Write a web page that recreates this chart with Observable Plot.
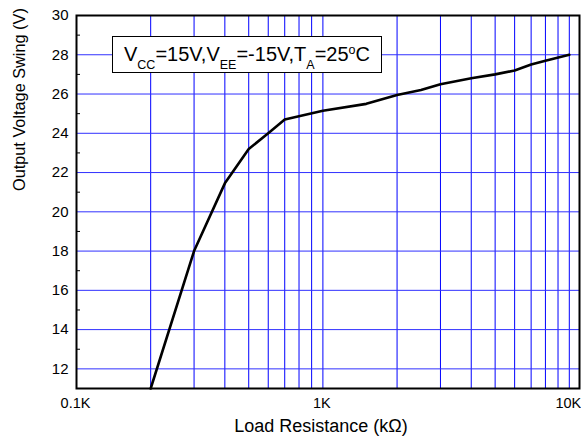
<!DOCTYPE html>
<html>
<head>
<meta charset="utf-8">
<script src="https://cdn.jsdelivr.net/npm/d3@7"></script>
<script src="https://cdn.jsdelivr.net/npm/@observablehq/plot@0.6"></script>
<style>
  html, body { margin: 0; padding: 0; background: #fff; }
  #wrap { position: relative; width: 581px; height: 446px; font-family: "Liberation Sans", Arial, sans-serif; }
  #note {
    position: absolute; left: 112px; top: 36px; width: 268px; height: 35px;
    border: 1.3px solid #000; background: #fff; box-sizing: content-box;
    font-size: 20px; color: #000; white-space: nowrap;
  }
  #note .t { position: absolute; left: 11px; top: 7px; line-height: 1; }
  #note .sub { font-size: 12.5px; position: relative; top: 8px; }
  #note .sup { font-size: 12.5px; position: relative; top: -7px; }
</style>
</head>
<body>
<div id="wrap"></div>
<script>
// Load resistance (ohms) and output voltage swing (V)
const resistance = [200, 300, 400, 500, 600, 700, 1000, 1500, 2000, 2500, 3000, 4000, 5000, 6000, 7000, 8000, 10000];
const swing      = [11, 18, 21.45, 23.2, 24, 24.7, 25.15, 25.5, 25.95, 26.2, 26.5, 26.8, 27, 27.2, 27.5, 27.7, 28];

const xTickValues = [100, 1000, 10000];
const xTickLabels = ["0.1K", "1K", "10K"];
const xGrid = [200, 300, 400, 500, 600, 700, 800, 900, 1000, 2000, 3000, 4000, 5000, 6000, 7000, 8000, 9000, 10000];
const yTickValues = [12, 14, 16, 18, 20, 22, 24, 26, 28, 30];
const yGrid = [12, 14, 16, 18, 20, 22, 24, 26, 28];
const yMinor = [11, 13, 15, 17, 19, 21, 23, 25, 27, 29];

const data = resistance.map((r, i) => ({r, v: swing[i]}));

const chart = Plot.plot({
  width: 581,
  height: 446,
  marginLeft: 76,
  marginRight: 2,
  marginTop: 15,
  marginBottom: 58,
  style: {fontFamily: "'Liberation Sans', Arial, sans-serif", fontSize: "15px", color: "#000", background: "#fff", overflow: "visible"},
  x: {type: "log", domain: [100, 11000]},
  y: {domain: [11, 30]},
  marks: [
    Plot.ruleX(xGrid, {stroke: "#0000ff", strokeWidth: 1}),
    Plot.ruleY(yGrid, {stroke: "#3030ff", strokeWidth: 1}),
    Plot.axisY(yMinor, {tickSize: -4, tickFormat: () => "", label: null, stroke: "#000"}),
    Plot.axisY({ticks: yTickValues, tickSize: 0, tickPadding: 8, label: null, fontSize: 15}),
    Plot.axisX({ticks: xTickValues, tickFormat: (d) => xTickLabels[xTickValues.indexOf(d)], tickSize: 0, tickPadding: 9, label: null, fontSize: 14.5, dx: -1}),
    Plot.line(data, {x: "r", y: "v", stroke: "#000", strokeWidth: 2.6, strokeLinejoin: "round"}),
    Plot.frame({stroke: "#000", strokeWidth: 2}),
    Plot.text(["Output Voltage Swing (V)"], {frameAnchor: "left", rotate: -90, dx: -57, dy: -11, fontSize: 16.3, fill: "#000"}),
    Plot.text(["Load Resistance (k\u03A9)"], {frameAnchor: "bottom", dx: -7, dy: 43, fontSize: 18, fill: "#000"})
  ]
});

const wrap = document.getElementById("wrap");
wrap.appendChild(chart);
const note = document.createElement("div");
note.id = "note";
note.innerHTML = '<span class="t">V<span class="sub">CC</span>=15V,V<span class="sub">EE</span>=-15V,T<span class="sub">A</span>=25<span class="sup">o</span>C</span>';
wrap.appendChild(note);
</script>
</body>
</html>
